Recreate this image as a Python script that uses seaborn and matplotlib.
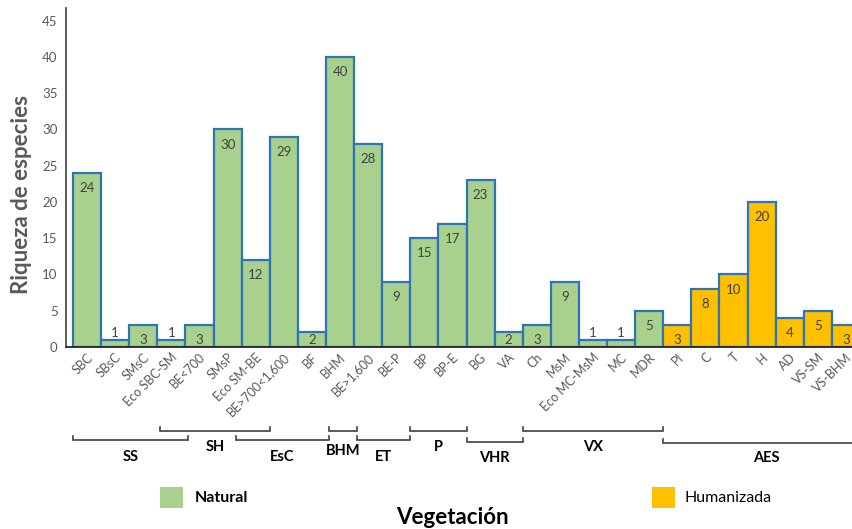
import matplotlib
matplotlib.use("Agg")
import matplotlib.pyplot as plt
import matplotlib.transforms as mtransforms
from matplotlib.lines import Line2D
from matplotlib.patches import Rectangle
import seaborn as sns
import pandas as pd

# --- data -------------------------------------------------------------------
categorias = ["SBC", "SBsC", "SMsC", "Eco SBC-SM", "BE<700", "SMsP", "Eco SM-BE",
              "BE>700<1,600", "BF", "BHM", "BE>1,600", "BE-P", "BP", "BP-E", "BG",
              "VA", "Ch", "MsM", "Eco MC-MsM", "MC", "MDR", "PI", "C", "T", "H",
              "AD", "VS-SM", "VS-BHM"]
riqueza = [24, 1, 3, 1, 3, 30, 12, 29, 2, 40, 28, 9, 15, 17, 23, 2, 3, 9, 1, 1, 5,
           3, 8, 10, 20, 4, 5, 3]
tipo = ["Natural"] * 21 + ["Humanizada"] * 7
tipos = ["Natural", "Humanizada"]

grupos = ["SS", "SH", "EsC", "BHM", "ET", "P", "VHR", "VX", "AES"]

# --- layout -----------------------------------------------------------------
W, H = 853, 529
# bracket spans (category units) and vertical placement (pixels from top)
grupo_span = [(-0.5, 3.6), (2.6, 6.5), (5.3, 8.6), (8.6, 9.6), (9.6, 11.5),
              (11.5, 13.5), (13.5, 15.5), (15.5, 20.5), (20.5, 27.8)]
grupo_linea_y = [440, 431, 440, 431, 440, 431, 442, 431, 443]
grupo_texto_y = [457, 447, 457, 451, 457, 447, 458, 447, 458]

colores = {"Natural": "#A9D18E", "Humanizada": "#FFC000"}
borde = "#2E75B6"
gris = "#595959"

plt.rcParams["font.family"] = ["Lato", "DejaVu Sans"]

fig = plt.figure(figsize=(W / 100, H / 100), dpi=100)
fy = lambda py: 1 - py / H
fx = lambda px: px / W

ax = fig.add_axes([fx(66), fy(347), 1 - fx(66), (347 - 8) / H])

df = pd.DataFrame({"Vegetación": categorias, "Riqueza": riqueza, "Tipo": tipo})
sns.barplot(data=df, x="Vegetación", y="Riqueza", hue="Tipo", order=categorias,
            hue_order=tipos, palette=colores, dodge=False, width=1.0,
            edgecolor=borde, linewidth=1.6, saturation=1, legend=False, ax=ax)

ax.set_xlim(-0.75, 27.25)
ax.set_ylim(0, 46.75)
ax.set_yticks(range(0, 50, 5))
ax.tick_params(axis="y", length=0, pad=6, labelsize=9.5, labelcolor=gris)
ax.tick_params(axis="x", length=0, pad=6, labelsize=9, labelcolor=gris)
ax.set_xticks(range(len(categorias)))
ax.set_xticklabels(categorias, rotation=45, ha="right", va="center",
                   rotation_mode="anchor")
shift = mtransforms.ScaledTranslation(4 / 100, 0, fig.dpi_scale_trans)
for lab in ax.get_xticklabels():
    lab.set_transform(lab.get_transform() + shift)
ax.set_xlabel("")
ax.set_ylabel("")
for s in ["top", "right"]:
    ax.spines[s].set_visible(False)
ax.spines["left"].set_color("#404040")
ax.spines["left"].set_linewidth(1.2)
ax.spines["bottom"].set_color("#262626")
ax.spines["bottom"].set_linewidth(1.3)
ax.set_facecolor("white")

# value labels
for i, v in enumerate(riqueza):
    y = v + 0.9 if v <= 1 else max(v - 2.1, 0.9)
    ax.text(i, y, str(v), ha="center", va="center", fontsize=9.5, color="#404040")

# group brackets under the category labels
blend = mtransforms.blended_transform_factory(ax.transData, fig.transFigure)
tick = 4
for nombre, (a, b), ly, ty in zip(grupos, grupo_span, grupo_linea_y, grupo_texto_y):
    fig.add_artist(Line2D([a, a, b, b], [fy(ly - tick), fy(ly), fy(ly), fy(ly - tick)],
                          transform=blend, color="#404040", lw=1.2,
                          solid_joinstyle="miter"))
    fig.text((a + b) / 2, fy(ty), nombre, transform=blend, ha="center",
             va="center", fontsize=10.5, fontweight="bold", color="black")

# legend
for nombre, x0, xt, w in [("Natural", 160, 195, "bold"),
                          ("Humanizada", 652, 685, "normal")]:
    fig.add_artist(Rectangle((fx(x0), fy(508)), fx(23), 21 / H,
                             transform=fig.transFigure, facecolor=colores[nombre],
                             edgecolor="none"))
    fig.text(fx(xt), fy(498), nombre, ha="left", va="center", fontsize=11.5,
             fontweight=w, color="black")

fig.text(fx(22), fy(195), "Riqueza de especies", rotation=90, ha="center",
         va="center", fontsize=16, fontweight="bold", color=gris)
fig.text(fx(452), fy(517), "Vegetación", ha="center", va="center", fontsize=16,
         fontweight="bold", color="black")

fig.savefig("out.png", dpi=100, facecolor="white")
